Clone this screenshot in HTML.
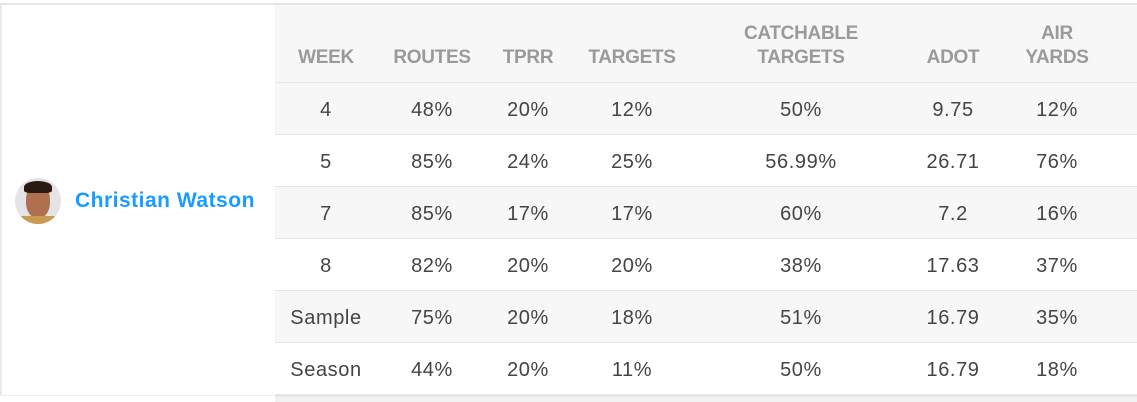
<!DOCTYPE html>
<html><head><style>
body{margin:0;width:1137px;height:402px;background:#fff;position:relative;overflow:hidden;font-family:"Liberation Sans",sans-serif}
.a{position:absolute}
.r{position:absolute;left:275px;width:862px;height:51px;border-bottom:1px solid #e6e6e6}
.c{position:absolute;transform:translateX(-50%);white-space:nowrap;font-size:20px;letter-spacing:0.6px;color:#444}
.h{position:absolute;transform:translateX(-50%);text-align:center;font-size:19px;font-weight:bold;color:#9a9a9a;line-height:24px;white-space:nowrap;letter-spacing:-0.3px}
</style></head><body>
<div class="a" style="left:0;top:0;width:1137px;height:5px;border-bottom:2px solid #e6e6e6;box-sizing:border-box"></div>
<div class="a" style="left:0;top:5px;width:2px;height:397px;background:#ececec"></div>
<div class="a" style="left:275px;top:5px;width:862px;height:78px;background:#f7f7f7;border-bottom:1px solid #e6e6e6;box-sizing:border-box"></div>
<div class="r" style="top:83px;background:#f7f7f7"></div>
<div class="r" style="top:135px;background:#fff"></div>
<div class="r" style="top:187px;background:#f7f7f7"></div>
<div class="r" style="top:239px;background:#fff"></div>
<div class="r" style="top:291px;background:#f7f7f7"></div>
<div class="r" style="top:343px;background:#fff"></div>
<div class="a" style="left:0;top:395px;width:1137px;height:7px;background:#f2f2f2;border-top:2px solid #e6e6e6;box-sizing:border-box"></div>
<div class="a" style="left:0;top:395px;width:275px;height:7px;background:#fff;border-top:1px solid #ececec;box-sizing:border-box"></div>

<div class="h" style="left:326px;top:46px">WEEK</div>
<div class="h" style="left:432px;top:46px">ROUTES</div>
<div class="h" style="left:528px;top:46px">TPRR</div>
<div class="h" style="left:632px;top:46px">TARGETS</div>
<div class="h" style="left:801px;top:22px">CATCHABLE<br>TARGETS</div>
<div class="h" style="left:953px;top:46px">ADOT</div>
<div class="h" style="left:1057px;top:22px">AIR<br>YARDS</div>

<div class="a" style="left:15px;top:178px;width:46px;height:46px;border-radius:50%;background:#e4e4e6;overflow:hidden">
<div class="a" style="left:11px;top:6px;width:24px;height:34px;border-radius:45%;background:#b07050"></div>
<div class="a" style="left:9px;top:3px;width:28px;height:12px;border-radius:50% 50% 20% 20%;background:#2a1a12"></div>
<div class="a" style="left:6px;top:38px;width:34px;height:10px;background:#c99a50"></div>
</div>
<div class="a" style="left:75px;top:189px;font-size:21px;letter-spacing:0.5px;font-weight:bold;color:#1a9bff">Christian Watson</div>

<div id="rows"></div>
<script>
var d=[["4","48%","20%","12%","50%","9.75","12%"],["5","85%","24%","25%","56.99%","26.71","76%"],["7","85%","17%","17%","60%","7.2","16%"],["8","82%","20%","20%","38%","17.63","37%"],["Sample","75%","20%","18%","51%","16.79","35%"],["Season","44%","20%","11%","50%","16.79","18%"]];
var x=[326,432,528,632,801,953,1057],h="";
d.forEach(function(r,i){r.forEach(function(v,j){h+='<div class="c" style="left:'+x[j]+'px;top:'+(99+i*52)+'px">'+v+'</div>';});});
document.getElementById("rows").innerHTML=h;
</script>
</body></html>
